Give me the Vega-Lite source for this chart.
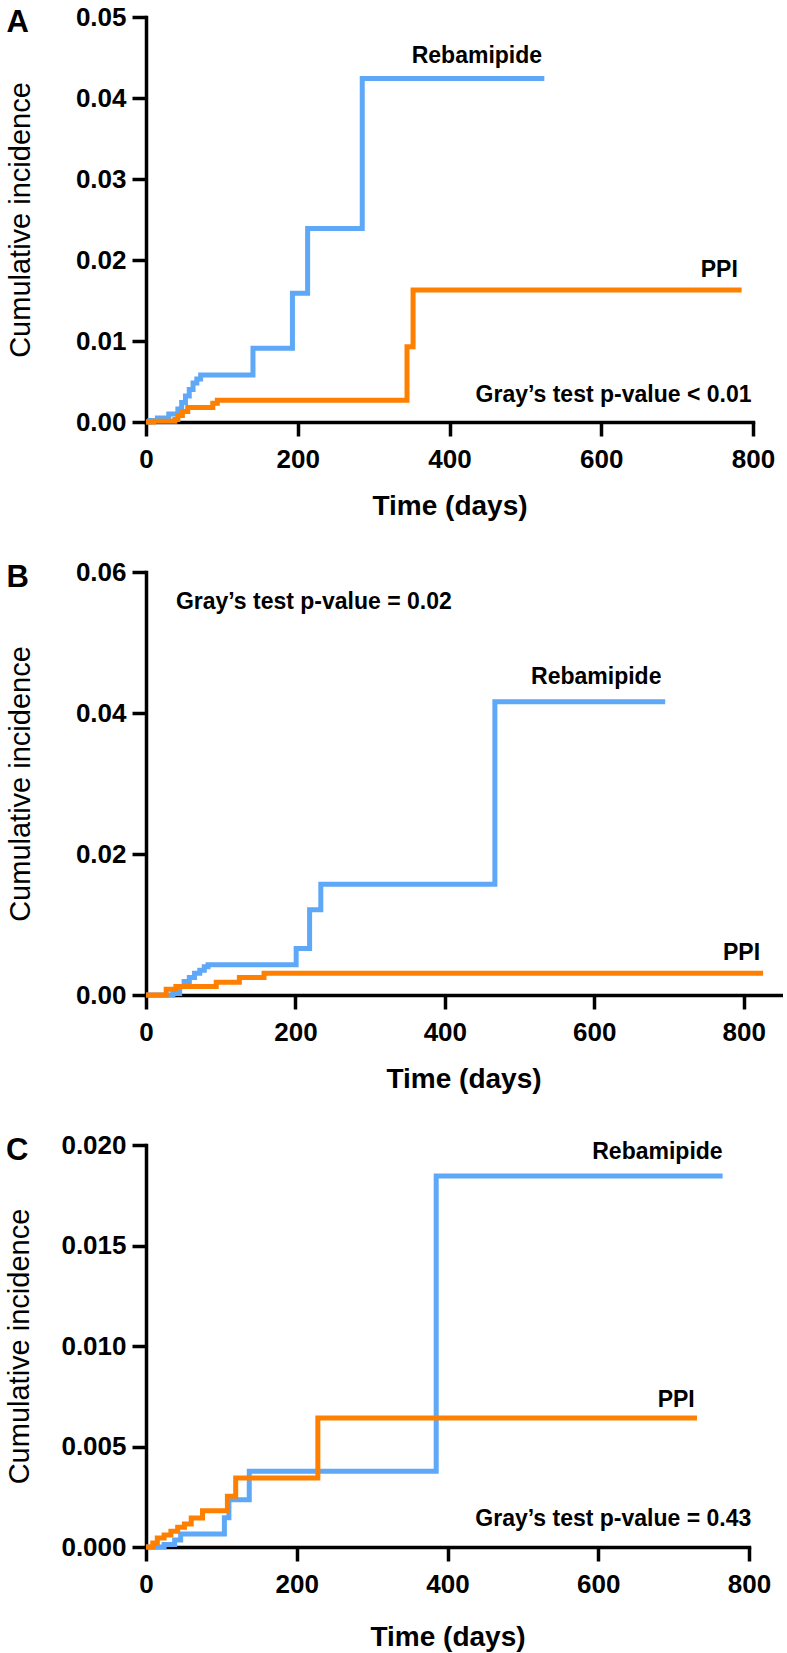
{
  "$schema": "https://vega.github.io/schema/vega-lite/v6.json",
  "background": "white",
  "padding": {"left": 5, "top": 4, "right": 2, "bottom": 2},
  "spacing": 39,
  "config": {
    "view": {"stroke": null},
    "font": "Liberation Sans",
    "axis": {
      "grid": false,
      "domainColor": "black",
      "domainWidth": 3.5,
      "domainCap": "square",
      "tickColor": "black",
      "tickWidth": 3.5,
      "tickSize": 14,
      "labelFont": "Liberation Sans",
      "labelFontSize": 26,
      "labelFontWeight": "bold",
      "labelColor": "black",
      "labelPadding": 6,
      "labelFlush": false,
      "labelOverlap": false,
      "titleFont": "Liberation Sans",
      "titleFontSize": 27,
      "titleColor": "black"
    },
    "axisX": {"titleFontWeight": "bold", "labelPadding": 10, "titlePadding": 20, "titleFontSize": 28},
    "axisY": {"titleFontWeight": "normal", "titleFontSize": 29},
    "title": {"anchor": "start", "frame": "bounds", "fontSize": 31, "fontWeight": "bold", "font": "Liberation Sans", "color": "black", "offset": -35},
    "line": {"interpolate": "step-after", "strokeWidth": 5, "strokeJoin": "miter"},
    "text": {"font": "Liberation Sans", "fontWeight": "bold", "fontSize": 23, "align": "right", "baseline": "middle", "color": "black"}
  },
  "datasets": {
    "a": [
      {"group": "Rebamipide", "day": 0, "ci": 0},
      {"group": "Rebamipide", "day": 5, "ci": 0.0002},
      {"group": "Rebamipide", "day": 15, "ci": 0.0005},
      {"group": "Rebamipide", "day": 30, "ci": 0.001},
      {"group": "Rebamipide", "day": 42, "ci": 0.0016},
      {"group": "Rebamipide", "day": 47, "ci": 0.0024},
      {"group": "Rebamipide", "day": 52, "ci": 0.0032},
      {"group": "Rebamipide", "day": 57, "ci": 0.004},
      {"group": "Rebamipide", "day": 62, "ci": 0.0048},
      {"group": "Rebamipide", "day": 67, "ci": 0.0053},
      {"group": "Rebamipide", "day": 72, "ci": 0.0058},
      {"group": "Rebamipide", "day": 141, "ci": 0.0091},
      {"group": "Rebamipide", "day": 193, "ci": 0.0159},
      {"group": "Rebamipide", "day": 213, "ci": 0.0239},
      {"group": "Rebamipide", "day": 285, "ci": 0.0424},
      {"group": "Rebamipide", "day": 525, "ci": 0.0424},
      {"group": "PPI", "day": 0, "ci": 0},
      {"group": "PPI", "day": 10, "ci": 0.0001},
      {"group": "PPI", "day": 38, "ci": 0.0003},
      {"group": "PPI", "day": 42, "ci": 0.0008},
      {"group": "PPI", "day": 48, "ci": 0.0013},
      {"group": "PPI", "day": 55, "ci": 0.0018},
      {"group": "PPI", "day": 88, "ci": 0.0023},
      {"group": "PPI", "day": 94, "ci": 0.0027},
      {"group": "PPI", "day": 344, "ci": 0.0093},
      {"group": "PPI", "day": 352, "ci": 0.0163},
      {"group": "PPI", "day": 785, "ci": 0.0163}
    ],
    "b": [
      {"group": "Rebamipide", "day": 0, "ci": 0},
      {"group": "Rebamipide", "day": 36, "ci": 0.0002},
      {"group": "Rebamipide", "day": 45, "ci": 0.0012},
      {"group": "Rebamipide", "day": 51, "ci": 0.0019},
      {"group": "Rebamipide", "day": 58, "ci": 0.0025},
      {"group": "Rebamipide", "day": 65, "ci": 0.0031},
      {"group": "Rebamipide", "day": 72, "ci": 0.0035},
      {"group": "Rebamipide", "day": 78, "ci": 0.004},
      {"group": "Rebamipide", "day": 83, "ci": 0.0043},
      {"group": "Rebamipide", "day": 201, "ci": 0.0066},
      {"group": "Rebamipide", "day": 219, "ci": 0.0121},
      {"group": "Rebamipide", "day": 234, "ci": 0.0157},
      {"group": "Rebamipide", "day": 467, "ci": 0.0416},
      {"group": "Rebamipide", "day": 695, "ci": 0.0416},
      {"group": "PPI", "day": 0, "ci": 0},
      {"group": "PPI", "day": 27, "ci": 0.0008},
      {"group": "PPI", "day": 40, "ci": 0.0012},
      {"group": "PPI", "day": 94, "ci": 0.0018},
      {"group": "PPI", "day": 125, "ci": 0.0025},
      {"group": "PPI", "day": 158, "ci": 0.0031},
      {"group": "PPI", "day": 826, "ci": 0.0031}
    ],
    "c": [
      {"group": "Rebamipide", "day": 0, "ci": 0},
      {"group": "Rebamipide", "day": 24, "ci": 0.00012},
      {"group": "Rebamipide", "day": 38, "ci": 0.00035},
      {"group": "Rebamipide", "day": 46, "ci": 0.00065},
      {"group": "Rebamipide", "day": 104, "ci": 0.00145},
      {"group": "Rebamipide", "day": 110, "ci": 0.00235},
      {"group": "Rebamipide", "day": 137, "ci": 0.00377},
      {"group": "Rebamipide", "day": 385, "ci": 0.01846},
      {"group": "Rebamipide", "day": 765, "ci": 0.01846},
      {"group": "PPI", "day": 0, "ci": 0},
      {"group": "PPI", "day": 9, "ci": 0.0002},
      {"group": "PPI", "day": 15, "ci": 0.00045},
      {"group": "PPI", "day": 24, "ci": 0.0006},
      {"group": "PPI", "day": 33, "ci": 0.00078},
      {"group": "PPI", "day": 42, "ci": 0.00098},
      {"group": "PPI", "day": 51, "ci": 0.00114},
      {"group": "PPI", "day": 60, "ci": 0.00144},
      {"group": "PPI", "day": 75, "ci": 0.0018},
      {"group": "PPI", "day": 108, "ci": 0.00252},
      {"group": "PPI", "day": 119, "ci": 0.00343},
      {"group": "PPI", "day": 228, "ci": 0.00642},
      {"group": "PPI", "day": 731, "ci": 0.00642}
    ]
  },
  "vconcat": [
    {
      "width": 607,
      "height": 405,
      "title": {"text": "A"},
      "layer": [
        {
          "data": {"name": "a"},
          "mark": {"type": "line"},
          "encoding": {
            "x": {"field": "day", "type": "quantitative", "title": "Time (days)", "scale": {"domain": [0, 800], "nice": false}, "axis": {"values": [0, 200, 400, 600, 800]}},
            "y": {"field": "ci", "type": "quantitative", "title": "Cumulative incidence", "scale": {"domain": [0, 0.05], "nice": false}, "axis": {"values": [0, 0.01, 0.02, 0.03, 0.04, 0.05], "format": ".2f", "titlePadding": 40}},
            "color": {"field": "group", "type": "nominal", "scale": {"domain": ["Rebamipide", "PPI"], "range": ["#5FA8F8", "#FF8000"]}, "legend": null}
          }
        },
        {
          "data": {"values": [
            {"label": "Rebamipide", "day": 522, "ci": 0.0452},
            {"label": "PPI", "day": 780, "ci": 0.0188},
            {"label": "Gray’s test p-value < 0.01", "day": 798, "ci": 0.0033}
          ]},
          "mark": {"type": "text"},
          "encoding": {
            "x": {"field": "day", "type": "quantitative", "title": "Time (days)"},
            "y": {"field": "ci", "type": "quantitative", "title": "Cumulative incidence"},
            "text": {"field": "label"}
          }
        }
      ]
    },
    {
      "width": 635,
      "height": 423,
      "title": {"text": "B"},
      "layer": [
        {
          "data": {"name": "b"},
          "mark": {"type": "line"},
          "encoding": {
            "x": {"field": "day", "type": "quantitative", "title": "Time (days)", "scale": {"domain": [0, 850], "nice": false}, "axis": {"values": [0, 200, 400, 600, 800]}},
            "y": {"field": "ci", "type": "quantitative", "title": "Cumulative incidence", "scale": {"domain": [0, 0.06], "nice": false}, "axis": {"values": [0, 0.02, 0.04, 0.06], "format": ".2f", "titlePadding": 40}},
            "color": {"field": "group", "type": "nominal", "scale": {"domain": ["Rebamipide", "PPI"], "range": ["#5FA8F8", "#FF8000"]}, "legend": null}
          }
        },
        {
          "data": {"values": [
            {"label": "Rebamipide", "day": 690, "ci": 0.0451},
            {"label": "PPI", "day": 822, "ci": 0.006}
          ]},
          "mark": {"type": "text"},
          "encoding": {
            "x": {"field": "day", "type": "quantitative", "title": "Time (days)"},
            "y": {"field": "ci", "type": "quantitative", "title": "Cumulative incidence"},
            "text": {"field": "label"}
          }
        },
        {
          "data": {"values": [
            {"label": "Gray’s test p-value = 0.02", "day": 40, "ci": 0.0558}
          ]},
          "mark": {"type": "text", "align": "left"},
          "encoding": {
            "x": {"field": "day", "type": "quantitative", "title": "Time (days)"},
            "y": {"field": "ci", "type": "quantitative", "title": "Cumulative incidence"},
            "text": {"field": "label"}
          }
        }
      ]
    },
    {
      "width": 603,
      "height": 402,
      "title": {"text": "C"},
      "layer": [
        {
          "data": {"name": "c"},
          "mark": {"type": "line"},
          "encoding": {
            "x": {"field": "day", "type": "quantitative", "title": "Time (days)", "scale": {"domain": [0, 800], "nice": false}, "axis": {"values": [0, 200, 400, 600, 800], "titlePadding": 26}},
            "y": {"field": "ci", "type": "quantitative", "title": "Cumulative incidence", "scale": {"domain": [0, 0.02], "nice": false}, "axis": {"values": [0, 0.005, 0.01, 0.015, 0.02], "format": ".3f", "titlePadding": 26}},
            "color": {"field": "group", "type": "nominal", "scale": {"domain": ["Rebamipide", "PPI"], "range": ["#5FA8F8", "#FF8000"]}, "legend": null}
          }
        },
        {
          "data": {"values": [
            {"label": "Rebamipide", "day": 765, "ci": 0.01965},
            {"label": "PPI", "day": 728, "ci": 0.0073},
            {"label": "Gray’s test p-value = 0.43", "day": 803, "ci": 0.0014}
          ]},
          "mark": {"type": "text"},
          "encoding": {
            "x": {"field": "day", "type": "quantitative", "title": "Time (days)"},
            "y": {"field": "ci", "type": "quantitative", "title": "Cumulative incidence"},
            "text": {"field": "label"}
          }
        }
      ]
    }
  ]
}
